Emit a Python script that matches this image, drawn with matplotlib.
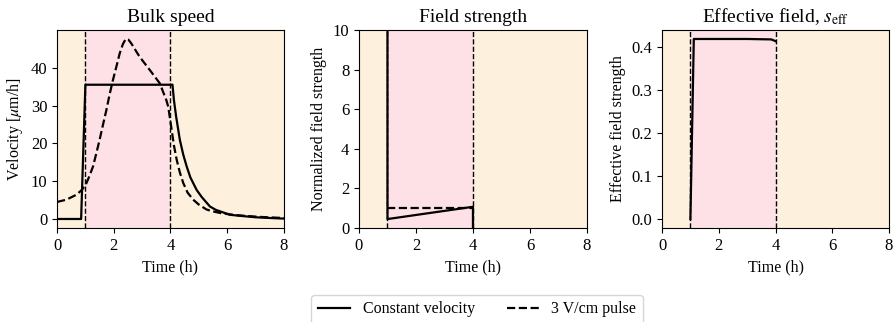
import numpy as np
import matplotlib
matplotlib.use("Agg")
import matplotlib.pyplot as plt

plt.rcParams['font.family'] = ['Liberation Serif', 'DejaVu Serif']
plt.rcParams['mathtext.fontset'] = 'stix'
plt.rcParams['font.size'] = 11.5

# --- data (time in hours) ---
t_start, t_end = 1.0, 4.0

# bulk speed, constant velocity protocol
vel_const_t = [0.0, 0.85, 1.0, 2.0, 3.0, 4.0, 4.07, 4.12, 4.2, 4.33, 4.45, 4.57, 4.7, 4.92,
               5.1, 5.39, 5.6, 6.1, 6.5, 7.0, 7.5, 8.0]
vel_const_v = [0.0, 0.0, 35.5, 35.5, 35.5, 35.5, 35.5, 31.5, 27.0, 20.9, 17.0, 13.9, 11.0, 7.7,
               5.8, 3.3, 2.4, 1.1, 0.8, 0.45, 0.26, 0.1]

# bulk speed, 3 V/cm pulse
vel_pulse_t = [0.0, 0.33, 0.68, 0.85, 1.01, 1.15, 1.27, 1.38, 1.5, 1.62, 1.74, 1.85, 1.97,
               2.1, 2.21, 2.32, 2.42, 2.52, 2.62, 2.91, 3.27, 3.62, 3.85, 3.92, 4.04, 4.12,
               4.22, 4.33, 4.45, 4.6, 4.8, 5.0, 5.27, 5.5, 5.8, 6.33, 7.14, 8.0]
vel_pulse_v = [4.5, 5.1, 6.4, 7.5, 9.0, 11.5, 13.9, 17.2, 20.9, 24.9, 28.8, 32.8, 36.7,
               40.5, 43.8, 46.2, 47.6, 47.4, 46.4, 42.9, 39.4, 35.9, 31.5, 29.7, 23.6, 19.5,
               15.6, 12.3, 9.5, 7.0, 5.1, 3.8, 2.5, 2.0, 1.5, 1.0, 0.55, 0.25]

# normalized field strength
field_const_t = [1.0, 1.0, 4.0, 4.0]
field_const_v = [12.0, 0.45, 1.07, 0.0]
field_pulse_t = [1.0, 4.0]
field_pulse_v = [1.0, 1.0]

# effective field strength
seff_t = [1.0, 1.12, 2.0, 3.0, 3.85, 4.0]
seff_v = [0.0, 0.418, 0.418, 0.418, 0.417, 0.413]

vel_ticks = [0, 10, 20, 30, 40]
time_ticks = [0, 2, 4, 6, 8]

bg_out = '#fdf0dd'
bg_in = '#fde1e6'

fig = plt.figure(figsize=(8.95, 3.22), dpi=100)
ax1 = fig.add_axes([0.0637, 0.292, 0.2536, 0.6149])
ax2 = fig.add_axes([0.4011, 0.292, 0.2547, 0.6149])
ax3 = fig.add_axes([0.7397, 0.292, 0.2536, 0.6149])

for ax in (ax1, ax2, ax3):
    ax.axvspan(0, t_start, color=bg_out, lw=0, zorder=0)
    ax.axvspan(t_start, t_end, color=bg_in, lw=0, zorder=0)
    ax.axvspan(t_end, 8, color=bg_out, lw=0, zorder=0)
    ax.axvline(t_start, color='k', ls='--', lw=1, zorder=1)
    ax.axvline(t_end, color='k', ls='--', lw=1, zorder=1)

l1, = ax1.plot(vel_const_t, vel_const_v, 'k-', lw=1.6, label='Constant velocity')
l2, = ax1.plot(vel_pulse_t, vel_pulse_v, 'k--', lw=1.6, label='3 V/cm pulse')
ax1.set_yticks(vel_ticks)
ax1.set_title('Bulk speed', fontsize=14)
ax1.set_ylabel(r'Velocity [$\mu$m/h]')

ax2.plot(field_const_t, field_const_v, 'k-', lw=1.6)
ax2.plot(field_pulse_t, field_pulse_v, 'k--', lw=1.6)
ax2.set_ylim(0, 10)
ax2.set_title('Field strength', fontsize=14)
ax2.set_ylabel('Normalized field strength')

ax3.plot(seff_t, seff_v, 'k-', lw=1.6)
ax3.set_title(r'Effective field, $s_{\mathrm{eff}}$', fontsize=14)
ax3.set_ylabel('Effective field strength')

for ax in (ax1, ax2, ax3):
    ax.set_xlim(0, 8)
    ax.set_xticks(time_ticks)
    ax.set_xlabel('Time (h)')
    ax.tick_params(labelsize=12)

fig.legend(handles=[l1, l2], loc='upper center', ncol=2,
           bbox_to_anchor=(477 / 895, 1 - 287 / 322), fontsize=11.5)

fig.savefig('out.png', dpi=100)
